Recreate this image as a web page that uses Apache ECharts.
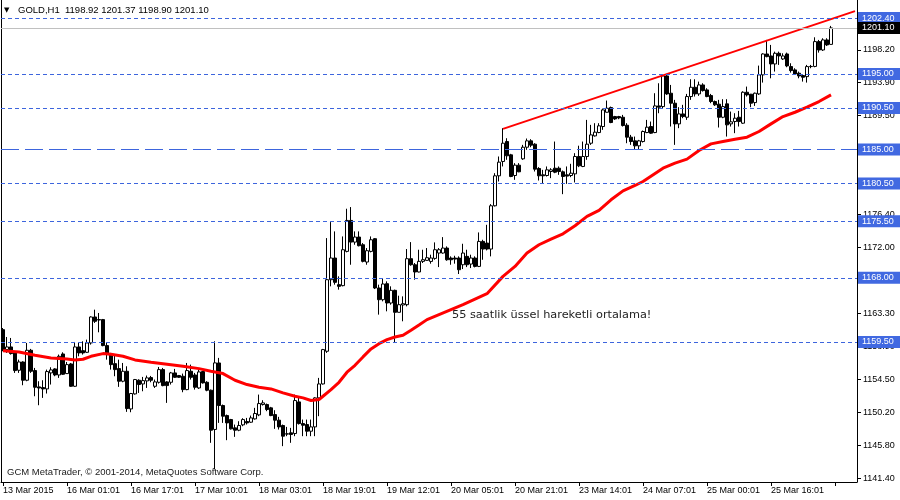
<!DOCTYPE html>
<html><head><meta charset="utf-8">
<script src="https://cdn.jsdelivr.net/npm/echarts@6/dist/echarts.min.js"></script>
<style>html,body{margin:0;padding:0;background:#fff}#c{width:900px;height:500px}</style>
</head><body><div id="c"></div>
<script>
// ---------------- data ----------------
const symbolName = 'GOLD,H1';
const tickLabels = ['13 Mar 2015','16 Mar 01:01','16 Mar 17:01','17 Mar 10:01','18 Mar 03:01','18 Mar 19:01',
  '19 Mar 12:01','20 Mar 05:01','20 Mar 21:01','23 Mar 14:01','24 Mar 07:01','25 Mar 00:01','25 Mar 16:01'];
const barsPerLabel = 16;
const totalSlots = 214;

const opens = [1161.13,1158.49,1158.84,1158.05,1155.75,1156.85,1154.43,1158.40,1155.71,1153.55,
1153.46,1153.28,1155.40,1155.93,1155.13,1157.91,1155.31,1156.59,1153.63,1158.84,
1158.35,1158.13,1159.37,1162.81,1162.46,1162.46,1159.02,1157.83,1156.63,1155.97,
1154.30,1155.62,1150.63,1152.62,1154.43,1153.94,1154.34,1154.78,1153.63,1154.16,
1155.84,1154.21,1154.16,1155.40,1155.05,1154.96,1153.19,1155.62,1155.13,1153.41,
1155.58,1154.16,1153.11,1147.91,1156.72,1151.08,1149.75,1149.22,1148.12,1147.81,
1148.52,1148.96,1148.87,1149.31,1149.84,1151.21,1151.21,1150.77,1149.88,1149.14,
1148.43,1147.33,1147.46,1147.37,1151.56,1148.69,1148.56,1147.68,1148.25,1152.09,
1153.94,1158.27,1167.75,1170.62,1167.09,1166.96,1171.50,1175.60,1172.73,1173.40,
1172.38,1170.09,1171.50,1173.18,1166.65,1165.10,1167.22,1164.66,1166.34,1163.43,
1164.40,1164.44,1170.53,1169.73,1168.77,1170.18,1170.31,1170.17,1170.57,1171.28,
1171.28,1171.94,1170.62,1170.62,1170.62,1169.73,1170.84,1169.82,1170.62,1169.51,
1172.82,1172.60,1171.81,1177.54,1181.51,1183.41,1186.05,1184.29,1181.55,1182.92,
1183.76,1185.30,1186.14,1185.70,1182.48,1181.64,1181.55,1182.08,1182.52,1182.52,
1182.04,1181.64,1181.55,1181.77,1184.07,1182.75,1184.07,1185.83,1186.80,1187.24,
1188.04,1189.93,1190.55,1189.36,1189.36,1189.27,1188.21,1186.63,1186.14,1185.48,
1186.05,1187.24,1188.04,1187.24,1190.77,1190.68,1194.74,1192.45,1191.13,1188.39,
1189.71,1189.27,1192.01,1193.24,1192.36,1193.55,1192.89,1192.14,1191.35,1191.00,
1189.27,1191.04,1188.39,1188.70,1189.27,1188.48,1192.58,1192.32,1191.21,1192.36,
1194.88,1197.65,1197.39,1196.33,1197.74,1196.99,1197.65,1195.98,1195.54,1195.10,
1194.79,1194.65,1195.98,1196.00,1199.29,1198.18,1199.51,1198.92];
const closes = [1158.49,1158.84,1157.96,1155.71,1156.85,1154.43,1158.40,1155.62,1153.50,1153.40,
1153.28,1155.58,1155.80,1155.13,1157.60,1155.22,1156.50,1153.63,1158.84,1158.05,
1158.05,1159.37,1162.81,1162.24,1162.41,1159.02,1157.83,1156.50,1155.84,1154.30,
1155.62,1150.68,1152.67,1154.52,1153.86,1154.38,1154.74,1154.43,1154.21,1155.84,
1153.72,1153.72,1155.40,1154.82,1154.82,1153.19,1155.71,1154.82,1153.50,1155.53,
1154.08,1153.11,1147.81,1156.73,1151.08,1149.67,1148.78,1147.99,1147.81,1148.43,
1149.22,1148.78,1149.44,1150.02,1151.34,1151.43,1150.55,1149.75,1149.14,1148.25,
1147.02,1147.30,1147.24,1151.74,1148.69,1148.47,1147.68,1148.25,1152.09,1153.94,
1158.49,1167.75,1170.62,1167.40,1166.87,1171.72,1175.60,1172.73,1173.40,1172.25,
1170.18,1171.59,1173.04,1166.65,1165.10,1167.18,1164.66,1166.34,1163.43,1164.44,
1164.57,1170.53,1169.73,1168.77,1170.18,1170.40,1170.66,1170.62,1171.72,1171.72,
1171.94,1170.39,1170.39,1170.48,1169.07,1171.28,1169.73,1170.62,1169.51,1172.82,
1171.81,1171.81,1177.54,1181.51,1183.32,1185.83,1184.16,1181.42,1182.92,1182.04,
1185.30,1186.14,1185.57,1182.39,1181.51,1181.51,1182.30,1182.30,1181.99,1182.08,
1181.42,1181.47,1181.86,1184.07,1182.83,1184.07,1185.70,1186.93,1187.29,1188.13,
1190.24,1190.46,1188.57,1189.05,1189.18,1188.17,1186.63,1186.05,1185.48,1186.14,
1187.38,1187.95,1187.16,1190.77,1190.60,1194.74,1192.36,1191.13,1188.39,1189.71,
1189.36,1192.01,1193.24,1192.36,1193.55,1192.80,1192.01,1191.35,1190.91,1189.27,
1190.68,1188.26,1188.66,1189.14,1188.70,1192.58,1192.23,1191.13,1192.45,1194.88,
1197.65,1197.30,1196.33,1197.74,1197.39,1197.39,1196.07,1195.45,1195.01,1194.74,
1194.57,1195.98,1196.00,1199.29,1198.18,1199.51,1198.85,1201.10];
const lows = [1158.27,1158.05,1157.83,1155.40,1155.40,1153.77,1154.30,1155.40,1152.31,1151.12,
1152.09,1152.67,1153.86,1154.96,1154.74,1155.13,1155.27,1153.55,1153.55,1157.60,
1157.83,1158.05,1159.15,1162.02,1160.78,1158.93,1157.16,1155.84,1154.96,1153.55,
1154.16,1150.24,1150.19,1152.53,1152.75,1152.97,1153.41,1154.16,1153.41,1153.99,
1153.63,1151.43,1153.86,1154.74,1154.74,1152.84,1153.11,1154.52,1153.19,1153.28,
1153.99,1152.97,1146.14,1142.62,1148.78,1148.78,1146.49,1147.90,1146.93,1147.68,
1148.34,1148.56,1148.78,1149.22,1149.67,1151.08,1150.33,1149.67,1147.99,1147.90,
1145.70,1147.02,1146.14,1147.02,1148.56,1147.02,1147.02,1147.02,1147.02,1149.67,
1153.86,1158.05,1166.87,1167.09,1166.43,1166.87,1171.37,1169.73,1172.38,1172.16,
1170.04,1169.73,1171.37,1166.51,1163.12,1164.88,1163.56,1164.44,1159.37,1163.43,
1162.24,1164.22,1169.60,1167.75,1168.72,1169.96,1170.26,1169.87,1170.39,1169.42,
1171.19,1170.26,1169.73,1169.87,1168.50,1169.16,1169.42,1169.29,1169.38,1169.42,
1170.39,1171.63,1170.84,1177.45,1180.76,1182.75,1183.63,1181.33,1180.98,1181.99,
1183.63,1184.95,1185.30,1182.08,1180.89,1180.54,1181.42,1181.20,1181.86,1181.64,
1179.08,1180.45,1181.33,1180.63,1182.66,1182.66,1183.63,1185.61,1186.71,1187.16,
1187.60,1189.89,1188.48,1188.92,1189.01,1188.04,1185.83,1185.61,1184.95,1184.95,
1185.92,1187.16,1187.07,1187.16,1189.80,1190.46,1192.23,1188.04,1185.61,1187.82,
1189.14,1188.92,1191.57,1192.01,1192.10,1192.67,1191.92,1191.13,1190.77,1187.91,
1189.14,1186.71,1188.04,1187.16,1188.04,1188.39,1192.01,1190.60,1190.77,1192.23,
1193.86,1197.21,1194.43,1195.32,1196.20,1196.86,1195.89,1195.18,1194.88,1194.43,
1193.99,1193.86,1195.76,1195.89,1197.83,1198.05,1198.71,1198.90];
const highs = [1161.35,1160.16,1160.03,1158.13,1157.16,1156.94,1159.37,1158.58,1156.06,1154.30,
1154.43,1155.84,1156.15,1156.02,1157.83,1158.13,1156.85,1156.72,1159.50,1159.37,
1159.59,1159.81,1162.90,1163.78,1163.34,1162.55,1159.37,1158.05,1157.83,1157.16,
1156.72,1156.28,1152.75,1154.60,1154.56,1154.87,1155.05,1155.00,1154.52,1156.19,
1156.06,1154.30,1155.53,1155.93,1155.13,1155.31,1156.72,1156.50,1155.40,1155.84,
1155.66,1154.30,1153.19,1159.59,1157.39,1151.21,1149.88,1149.31,1148.56,1149.00,
1149.40,1149.44,1149.75,1150.77,1152.53,1151.78,1151.34,1150.90,1150.46,1149.58,
1148.56,1148.25,1148.12,1152.53,1152.22,1149.22,1149.22,1149.22,1152.18,1154.74,
1158.58,1173.26,1175.38,1174.15,1168.19,1173.48,1177.15,1177.37,1174.15,1174.15,
1172.60,1171.94,1173.48,1173.26,1167.09,1167.97,1167.53,1166.87,1166.43,1165.63,
1165.54,1171.81,1172.73,1169.96,1171.72,1171.72,1171.94,1171.06,1172.69,1171.94,
1173.39,1172.16,1170.84,1170.92,1170.84,1172.51,1171.72,1171.06,1170.84,1174.01,
1173.04,1175.02,1177.76,1181.86,1184.07,1187.82,1186.49,1184.42,1183.19,1183.19,
1185.61,1186.45,1186.36,1185.83,1182.66,1182.30,1182.75,1182.52,1186.05,1182.75,
1182.21,1182.75,1183.10,1184.51,1185.50,1186.05,1188.92,1188.26,1188.48,1188.48,
1190.42,1191.48,1190.68,1189.45,1189.45,1189.58,1188.48,1186.93,1186.71,1186.27,
1187.51,1188.92,1188.70,1192.45,1193.77,1194.88,1195.01,1193.55,1191.57,1190.60,
1190.91,1192.36,1194.30,1194.30,1193.99,1193.77,1193.11,1192.36,1191.48,1191.57,
1191.66,1191.66,1190.02,1189.80,1190.11,1192.71,1193.33,1192.36,1192.54,1196.11,
1197.74,1199.51,1198.85,1197.96,1197.96,1197.74,1197.83,1196.42,1195.76,1195.32,
1194.88,1196.20,1196.20,1199.86,1199.51,1199.73,1199.73,1201.37];

// 55-period EMA, read at these bars
const emaBars = [0,4,8,12,16,18,20,22,25,27,30,33,37,41,45,49,52,55,58,61,64,67,70,73,75,77,79,80,82,84,
  86,88,90,92,94,96,98,100,102,104,106,112,115,121,125,128,131,134,137,140,143,146,149,152,155,158,160,
  165,168,171,174,177,180,183,186,189,192,195,198,201,204,207];
const emaValues = [1158.35,1158.18,1157.74,1157.38,1157.25,1157.12,1157.21,1157.60,1157.96,1157.87,1157.60,
  1157.12,1156.81,1156.55,1156.28,1155.97,1155.62,1155.31,1154.43,1153.86,1153.50,1153.28,1152.75,1152.31,
  1152.09,1151.74,1151.87,1152.31,1153.19,1154.16,1155.49,1156.41,1157.52,1158.58,1159.28,1159.81,1160.16,
  1160.38,1161.05,1161.75,1162.46,1163.78,1164.44,1165.89,1168.19,1169.51,1171.28,1172.38,1173.13,1173.83,
  1174.89,1176.13,1176.92,1178.33,1179.52,1180.23,1180.76,1182.52,1183.19,1183.72,1184.86,1185.74,1186.05,
  1186.36,1186.63,1187.38,1188.39,1189.36,1189.93,1190.60,1191.35,1192.23];

const trendBars = [125, 213];
const trendValues = [1187.73, 1203.32];

const dotLevels = [1202.40, 1195.00, 1190.50, 1180.50, 1175.50, 1168.00, 1159.50];
const dashLevels = [1185.00];
const bidLevel = 1201.10;
const priceTicks = [1141.40, 1145.80, 1150.20, 1154.50, 1158.90, 1163.30, 1167.70, 1172.00, 1176.40,
  1180.80, 1185.10, 1189.50, 1193.90, 1198.20, 1202.60];
const noteText = '55 saatlik üssel hareketli ortalama!';
const copyrightText = 'GCM MetaTrader, © 2001-2014, MetaQuotes Software Corp.';

// ---------------- chart ----------------
const uiFont = "'Liberation Sans', Arial, sans-serif";
const axisSize = 9;
const textSize = 9.5;

const cats = Array.from({length: totalSlots}, (_, i) => String(i));
const candles = opens.map((o, i) => [o, closes[i], lows[i], highs[i]]);
const ema = emaBars.map((b, i) => [b, emaValues[i]]);
const trend = trendBars.map((b, i) => [b, trendValues[i]]);
const yMin = 1140.95, yMax = 1204.80;

const boxLabel = (bg) => ({
  show: true, position: 'end', distance: 1, formatter: p => Number(p.value).toFixed(2),
  backgroundColor: bg, color: '#fff', padding: [1, 7, 0, 4],
  fontFamily: uiFont, fontSize: axisSize, lineHeight: 11
});
const markData = [];
dotLevels.forEach(v => markData.push({yAxis: v, lineStyle: {color: '#3d65dd', width: 1, type: [4, 3]}, label: boxLabel('#4169e1')}));
dashLevels.forEach(v => markData.push({yAxis: v, lineStyle: {color: '#3d65dd', width: 1, type: [18, 6]}, label: boxLabel('#4169e1')}));
markData.push({yAxis: bidLevel, lineStyle: {color: '#c0c0c0', width: 1, type: 'solid'}, label: boxLabel('#000')});

const last = opens.length - 1;
const headerText = symbolName + '  ' + [opens[last], highs[last], lows[last], closes[last]].map(v => v.toFixed(2)).join(' ');

const chart = echarts.init(document.getElementById('c'), null, {renderer: 'canvas'});
chart.setOption({
  animation: false,
  backgroundColor: '#fff',
  grid: {left: 1, top: 0, width: 856, height: 482},
  xAxis: {
    type: 'category', data: cats, boundaryGap: true,
    axisLine: {show: true, lineStyle: {color: '#000', width: 1}},
    axisTick: {show: true, interval: barsPerLabel - 1, alignWithLabel: true, length: 4, lineStyle: {color: '#000'}},
    axisLabel: {
      interval: barsPerLabel - 1, align: 'left', margin: 4, color: '#000',
      fontFamily: uiFont, fontSize: axisSize,
      formatter: (v, i) => (i % barsPerLabel === 0 && tickLabels[i / barsPerLabel]) ? tickLabels[i / barsPerLabel] : ''
    },
    splitLine: {show: false}
  },
  yAxis: [{
    type: 'value', position: 'right', min: yMin, max: yMax,
    splitLine: {show: false},
    axisLine: {show: true, lineStyle: {color: '#000', width: 1}},
    axisTick: {show: true, length: 4, customValues: priceTicks, lineStyle: {color: '#000'}},
    axisLabel: {customValues: priceTicks, formatter: v => v.toFixed(2), color: '#000', margin: 6,
      fontFamily: uiFont, fontSize: axisSize}
  }, {
    type: 'value', position: 'left', min: yMin, max: yMax,
    splitLine: {show: false}, axisTick: {show: false}, axisLabel: {show: false},
    axisLine: {show: true, lineStyle: {color: '#000', width: 1}}
  }],
  series: [{
    type: 'candlestick', name: symbolName, data: candles, barWidth: 3,
    itemStyle: {color: '#fff', color0: '#000', borderColor: '#000', borderColor0: '#000', borderWidth: 1},
    markLine: {symbol: ['none', 'none'], silent: true, animation: false, data: markData}
  }, {
    type: 'line', name: 'EMA55', data: ema, showSymbol: false, symbol: 'none', z: 4,
    lineStyle: {color: '#ff0000', width: 3}
  }, {
    type: 'line', name: 'trend', data: trend, showSymbol: false, symbol: 'none', z: 4,
    lineStyle: {color: '#ff0000', width: 2}
  }],
  graphic: [
    {type: 'text', left: 4, top: 7, style: {text: '▼', font: "7px 'DejaVu Sans'", fill: '#000'}},
    {type: 'text', left: 18, top: 5, style: {text: headerText, font: textSize + 'px ' + uiFont, fill: '#000'}},
    {type: 'text', left: 7, top: 467, style: {text: copyrightText, font: textSize + 'px ' + uiFont, fill: '#1a1a1a'}},
    {type: 'text', left: 452, top: 310, style: {text: noteText, font: "11.3px 'DejaVu Sans'", fill: '#222'}}
  ]
});
</script>
</body></html>
